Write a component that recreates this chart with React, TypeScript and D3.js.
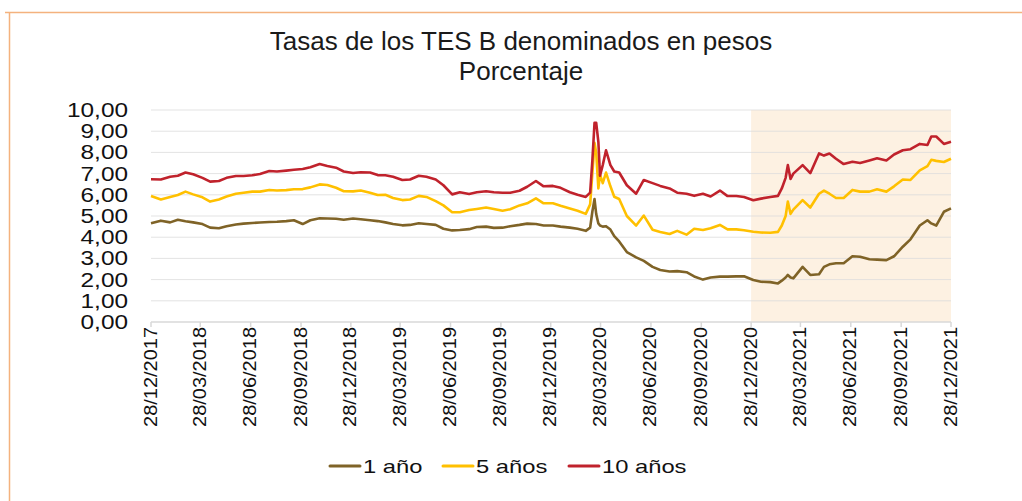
import React from "react";
import * as d3 from "d3";

const dates: string[] = [
  "2017-12-28",
  "2018-01-15","2018-02-01","2018-02-15","2018-03-01","2018-03-15","2018-04-01","2018-04-15","2018-05-01","2018-05-15","2018-06-01","2018-06-15","2018-07-01","2018-07-15","2018-08-01","2018-08-15","2018-09-01","2018-09-15","2018-10-01","2018-10-15","2018-11-01","2018-11-15","2018-12-01","2018-12-15",
  "2019-01-01","2019-01-15","2019-02-01","2019-02-15","2019-03-01","2019-03-15","2019-04-01","2019-04-15","2019-05-01","2019-05-15","2019-06-01","2019-06-15","2019-07-01","2019-07-15","2019-08-01","2019-08-15","2019-09-01","2019-09-15","2019-10-01","2019-10-15","2019-11-01","2019-11-15","2019-12-01","2019-12-15",
  "2020-01-01","2020-01-15","2020-02-01","2020-02-15","2020-03-01","2020-03-09","2020-03-13","2020-03-17","2020-03-20","2020-03-24","2020-03-27","2020-04-01","2020-04-07","2020-04-15","2020-04-22","2020-05-01","2020-05-15","2020-06-01","2020-06-15","2020-07-01","2020-07-15","2020-08-01","2020-08-15","2020-09-01","2020-09-15","2020-10-01","2020-10-15","2020-11-01","2020-11-15","2020-12-01","2020-12-15",
  "2021-01-01","2021-01-15","2021-02-01","2021-02-15","2021-02-22","2021-03-01","2021-03-05","2021-03-10","2021-03-15","2021-04-01","2021-04-15","2021-05-01","2021-05-10","2021-05-20","2021-06-01","2021-06-15","2021-07-01","2021-07-15","2021-08-01","2021-08-15","2021-09-01","2021-09-15","2021-10-01","2021-10-15","2021-11-01","2021-11-15","2021-11-22","2021-12-01","2021-12-15","2021-12-28",
];

const tes10: number[] = [
  6.73,
  6.72,6.85,6.90,7.05,6.97,6.80,6.62,6.65,6.80,6.89,6.89,6.92,6.98,7.12,7.10,7.14,7.18,7.22,7.30,7.45,7.36,7.28,7.10,
  7.03,7.06,7.05,6.93,6.92,6.85,6.70,6.72,6.90,6.85,6.72,6.45,6.02,6.12,6.04,6.12,6.17,6.12,6.10,6.10,6.19,6.38,6.65,6.40,
  6.42,6.33,6.12,6.00,5.90,6.10,7.60,9.40,9.40,8.50,6.90,7.40,8.10,7.40,7.10,7.05,6.45,6.05,6.70,6.55,6.42,6.30,6.10,6.05,5.95,6.05,5.92,6.20,5.94,5.94,5.90,
  5.74,5.82,5.90,5.95,6.30,6.80,7.40,6.75,7.00,7.40,7.02,7.95,7.85,7.95,7.70,7.45,7.56,7.50,7.62,7.72,7.62,7.90,8.10,8.15,8.40,8.35,8.75,8.75,8.40,8.50,
];

const tes5: number[] = [
  5.94,
  5.78,5.90,5.99,6.15,6.02,5.88,5.68,5.78,5.92,6.05,6.10,6.15,6.15,6.23,6.20,6.22,6.26,6.27,6.35,6.49,6.46,6.33,6.17,
  6.16,6.20,6.10,5.99,6.00,5.85,5.75,5.78,5.95,5.90,5.70,5.50,5.18,5.18,5.28,5.33,5.40,5.33,5.25,5.32,5.50,5.60,5.83,5.60,
  5.60,5.48,5.35,5.25,5.10,5.55,7.00,8.45,8.00,6.30,6.95,6.55,7.05,6.40,5.91,5.80,5.00,4.55,5.02,4.35,4.25,4.15,4.30,4.12,4.40,4.34,4.42,4.58,4.37,4.37,4.33,
  4.26,4.22,4.21,4.25,4.55,5.00,5.68,5.10,5.30,5.75,5.40,6.05,6.20,6.05,5.85,5.85,6.23,6.15,6.15,6.26,6.15,6.40,6.72,6.70,7.15,7.35,7.65,7.60,7.55,7.70,
];

const tes1: number[] = [
  4.66,
  4.78,4.70,4.82,4.75,4.70,4.62,4.45,4.42,4.52,4.60,4.64,4.67,4.69,4.72,4.73,4.76,4.80,4.62,4.80,4.89,4.88,4.87,4.82,
  4.88,4.85,4.80,4.76,4.70,4.62,4.56,4.58,4.66,4.62,4.58,4.40,4.32,4.34,4.38,4.48,4.50,4.44,4.45,4.52,4.58,4.64,4.62,4.55,
  4.55,4.50,4.45,4.40,4.30,4.45,5.20,5.80,5.10,4.65,4.55,4.50,4.52,4.36,4.05,3.80,3.30,3.05,2.88,2.60,2.45,2.38,2.40,2.35,2.15,2.00,2.10,2.14,2.14,2.15,2.16,
  1.98,1.90,1.88,1.82,1.95,2.10,2.22,2.10,2.06,2.60,2.22,2.25,2.60,2.72,2.77,2.77,3.10,3.08,2.96,2.94,2.92,3.10,3.55,3.90,4.55,4.80,4.65,4.55,5.20,5.36,
];

const xTickLabels: string[] = [
  "28/12/2017","28/03/2018","28/06/2018","28/09/2018","28/12/2018","28/03/2019","28/06/2019","28/09/2019","28/12/2019",
  "28/03/2020","28/06/2020","28/09/2020","28/12/2020","28/03/2021","28/06/2021","28/09/2021","28/12/2021",
];
const yTicks: number[] = [0,1,2,3,4,5,6,7,8,9,10];
const shadeRange: string[] = ["2020-12-28", "2021-12-28"];

const seriesNames: string[] = ["1 año", "5 años", "10 años"];
const seriesColors: string[] = ["#7F6327", "#FFC000", "#C0222C"];

const parse = d3.timeParse("%Y-%m-%d");
const parseTick = d3.timeParse("%d/%m/%Y");

export default function App() {
  const W = 1022, H = 501;
  const left = 151, right = 951, top = 110, bottom = 322;
  const x = d3.scaleTime()
    .domain([parse("2017-12-28") as Date, parse("2021-12-28") as Date])
    .range([left, right]);
  const y = d3.scaleLinear().domain([0, 10]).range([bottom, top]);
  const fmt = (v: number) => v.toFixed(2).replace(".", ",");
  const allSeries = [tes1, tes5, tes10];
  const line = d3.line<[Date, number]>().x(d => x(d[0])).y(d => y(d[1])).curve(d3.curveLinear);
  const dd = dates.map(s => parse(s) as Date);
  const font = "'Liberation Sans', Arial, sans-serif";
  const legendX = [330, 443, 569];

  return (
    <svg width={W} height={H} style={{ position: "absolute", left: 0, top: 0, background: "#fff" }} fontFamily={font}>
      <rect x={0} y={0} width={W} height={H} fill="#fff" />
      <line x1={5} x2={W} y1={12.5} y2={12.5} stroke="#F4B27E" strokeWidth={1.5} />
      <line x1={9.5} x2={9.5} y1={12} y2={H} stroke="#F4B27E" strokeWidth={1.5} />

      <text x={521} y={50} textAnchor="middle" fontSize={26} fill="#1a1a1a">Tasas de los TES B denominados en pesos</text>
      <text x={521} y={80} textAnchor="middle" fontSize={26} fill="#1a1a1a">Porcentaje</text>

      <rect x={x(parse(shadeRange[0]) as Date)} y={top} width={x(parse(shadeRange[1]) as Date) - x(parse(shadeRange[0]) as Date)} height={bottom - top} fill="#FDF1E2" />

      {yTicks.map(t => (
        <g key={t}>
          <line x1={left} x2={right} y1={y(t)} y2={y(t)} stroke={t === 0 ? "#D9D9D9" : "#DCDCDC"} strokeOpacity={t === 0 ? 1 : 0.8} strokeWidth={t === 0 ? 1.5 : 1} />
          <text transform={`translate(128,${y(t) + 7}) scale(1.25,1)`} textAnchor="end" fontSize={19.5} fill="#111">{fmt(t)}</text>
        </g>
      ))}

      {xTickLabels.map(s => {
        const xx = x(parseTick(s) as Date);
        return (
          <g key={s}>
            <line x1={xx} x2={xx} y1={bottom} y2={bottom + 5} stroke="#D9D9D9" strokeWidth={1.5} />
            <text transform={`translate(${xx + 5.5},327) rotate(-90)`} textAnchor="end" fontSize={18.5} textLength={100} lengthAdjust="spacingAndGlyphs" fill="#111">{s}</text>
          </g>
        );
      })}

      {allSeries.map((vals, i) => (
        <path key={i} d={line(dd.map((d, j) => [d, vals[j]] as [Date, number])) || ""} fill="none" stroke={seriesColors[i]} strokeWidth={2.6} strokeLinejoin="round" />
      ))}

      {seriesNames.map((n, i) => (
        <g key={n}>
          <line x1={legendX[i]} x2={legendX[i] + 30} y1={466} y2={466} stroke={seriesColors[i]} strokeWidth={3} strokeLinecap="round" />
          <text transform={`translate(${legendX[i] + 33},473) scale(1.25,1)`} fontSize={19} fill="#111">{n}</text>
        </g>
      ))}
    </svg>
  );
}
